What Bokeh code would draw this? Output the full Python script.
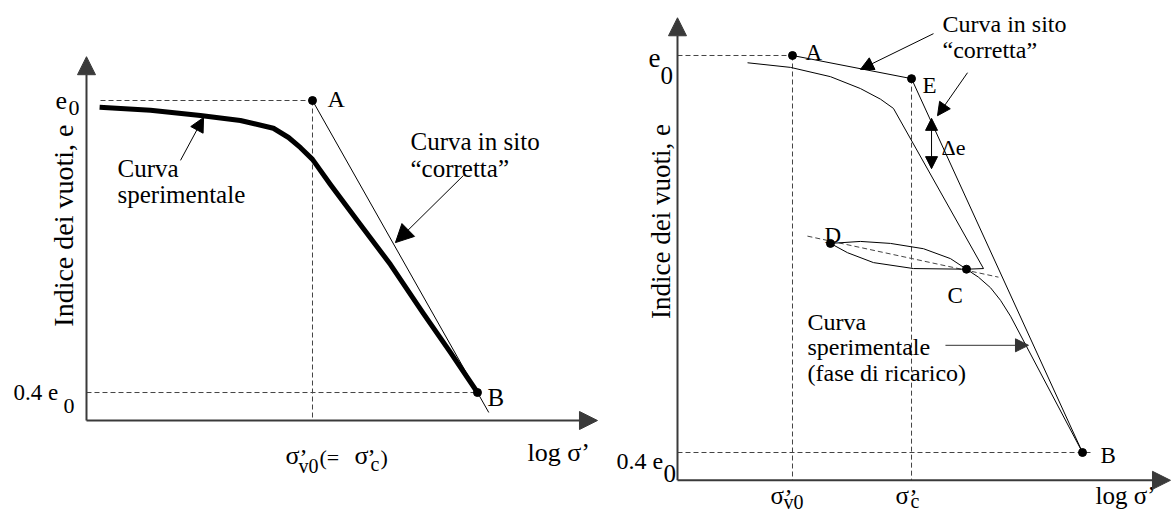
from bokeh.plotting import figure
from bokeh.layouts import row
from bokeh.models import Arrow, NormalHead, Range1d
from bokeh.core.properties import value
from bokeh.embed import file_html
from bokeh.resources import INLINE

SERIF = "Liberation Serif"

# ---------------------------------------------------------------
# Left panel: void ratio (e / e0) against log sigma' (sigma'v0 = 1)
# ---------------------------------------------------------------
left_exp_logs = [0.058, 0.283, 0.504, 0.681, 0.827, 0.894, 0.947, 1.000,
                 1.080, 1.199, 1.345, 1.491, 1.611, 1.730]
left_exp_e = [0.986, 0.980, 0.969, 0.959, 0.943, 0.924, 0.903, 0.879,
              0.827, 0.753, 0.663, 0.562, 0.482, 0.400]
# corrected field curve A -> B (continued a little past B)
left_field_logs = [1.000, 1.730, 1.780]
left_field_e = [1.000, 0.400, 0.359]
left_pt_names = ["A", "B"]
left_pt_logs = [1.000, 1.730]
left_pt_e = [1.000, 0.400]
left_origin = [0.0, 0.3425]
left_axis_end = [2.261, 1.090]

# ---------------------------------------------------------------
# Right panel: loading / unloading / reloading test curve
# ---------------------------------------------------------------
right_load_logs = [0.609, 0.983, 1.330, 1.591, 1.765, 1.878, 2.661]
right_load_e = [0.989, 0.982, 0.968, 0.950, 0.934, 0.920, 0.678]
right_unload_logs = [2.661, 2.513, 2.052, 1.704, 1.478, 1.330]
right_unload_e = [0.678, 0.677, 0.678, 0.687, 0.702, 0.716]
right_reload_logs = [1.330, 1.591, 1.852, 2.139, 2.374, 2.513, 2.617,
                     2.722, 2.809, 2.896, 3.522]
right_reload_e = [0.716, 0.719, 0.716, 0.708, 0.693, 0.677, 0.665,
                  0.649, 0.630, 0.606, 0.400]
right_field_logs = [1.000, 2.035, 3.522]
right_field_e = [1.000, 0.965, 0.400]
right_recomp_logs = [1.130, 2.791]
right_recomp_e = [0.727, 0.665]
right_pt_names = ["A", "E", "D", "C", "B"]
right_pt_logs = [1.000, 2.035, 1.330, 2.513, 3.522]
right_pt_e = [1.000, 0.965, 0.716, 0.677, 0.400]
right_delta_e = [0.829, 0.905]
right_origin = [0.0, 0.358]
right_axis_end = [4.287, 1.057]
right_0p4_end = 3.609


def make_fig(width, xr, yr):
    p = figure(width=width, height=515, x_range=Range1d(*xr), y_range=Range1d(*yr),
               x_axis_type=None, y_axis_type=None, output_backend="svg",
               toolbar_location=None, min_border=0, outline_line_color=None,
               background_fill_color="white", border_fill_color="white")
    p.xgrid.visible = False
    p.ygrid.visible = False
    return p


def label(p, x, y, s, size, align="left", angle=0.0):
    p.text(x=[x], y=[y], text=[s], text_font=value(SERIF),
           text_font_size=f"{size}px", text_align=align,
           text_baseline="alphabetic", angle=angle, text_color="black")


def arrow(p, x0, y0, x1, y1, size, both=False, color="black", lw=1.0):
    end = NormalHead(size=size, fill_color=color, line_color=color, line_width=1)
    start = NormalHead(size=size, fill_color=color, line_color=color, line_width=1) if both else None
    p.add_layout(Arrow(start=start, end=end, x_start=x0, y_start=y0, x_end=x1, y_end=y1,
                       line_color=color, line_width=lw))


def dashed(p, xs, ys):
    p.line(xs, ys, line_color="#444444", line_width=1, line_dash="5 3")


AXIS_COLOR = "#3a3a3a"

# ======================= left panel =======================
pl = make_fig(610, (-0.3805, 2.3186), (0.1473, 1.2055))

# guide lines
dashed(pl, [0.062, left_pt_logs[0]], [left_pt_e[0], left_pt_e[0]])
dashed(pl, [left_origin[0], left_pt_logs[1]], [left_pt_e[1], left_pt_e[1]])
dashed(pl, [left_pt_logs[0], left_pt_logs[0]], [left_pt_e[0], left_origin[1]])

# axes
arrow(pl, left_origin[0], left_origin[1], left_origin[0], left_axis_end[1], 18, color=AXIS_COLOR, lw=2)
arrow(pl, left_origin[0], left_origin[1], left_axis_end[0], left_origin[1], 18, color=AXIS_COLOR, lw=2)

# curves
pl.line(left_exp_logs, left_exp_e, line_color="black", line_width=5, line_join="round")
pl.line(left_field_logs, left_field_e, line_color="black", line_width=1)
pl.scatter(left_pt_logs, left_pt_e, size=8, color="black")

# callouts
arrow(pl, 0.416, 0.877, 0.518, 0.965, 14)
arrow(pl, 1.668, 0.846, 1.367, 0.708, 18)

# texts
label(pl, -0.102, 0.743, "Indice dei vuoti, e", 28, align="center", angle=1.5708)
label(pl, -0.137, 1.000, "e", 26)
label(pl, -0.0796, 0.9836, "0", 22)
label(pl, -0.323, 0.400, "0.4 e", 23)
label(pl, -0.1018, 0.3733, "0", 22)
label(pl, 1.0664, 1.0041, left_pt_names[0], 24)
label(pl, 1.7743, 0.3897, left_pt_names[1], 25)
label(pl, 0.1372, 0.8603, "Curva", 25)
label(pl, 0.1372, 0.8068, "sperimentale", 25)
label(pl, 1.4336, 0.9158, "Curva in sito", 25)
label(pl, 1.4336, 0.8603, "\u201ccorretta\u201d", 25)
label(pl, 0.8805, 0.2705, "\u03c3", 26)
label(pl, 0.9425, 0.2684, "\u2019", 24)
label(pl, 0.938, 0.250, "v0", 20)
label(pl, 1.031, 0.2664, "(=", 22)
label(pl, 1.186, 0.2705, "\u03c3", 26)
label(pl, 1.243, 0.2684, "\u2019", 24)
label(pl, 1.2566, 0.2541, "c", 20)
label(pl, 1.301, 0.2664, ")", 22)
label(pl, 1.9513, 0.2767, "log \u03c3\u2019", 26)

# ======================= right panel =======================
pr = make_fig(561, (-0.5826, 4.2957), (0.3048, 1.0831))

dashed(pr, [right_origin[0], right_pt_logs[0]], [right_pt_e[0], right_pt_e[0]])
dashed(pr, [right_origin[0], right_0p4_end], [right_pt_e[4], right_pt_e[4]])
dashed(pr, [right_pt_logs[0], right_pt_logs[0]], [right_pt_e[0], right_origin[1]])
dashed(pr, [right_pt_logs[1], right_pt_logs[1]], [right_pt_e[1], right_origin[1]])
dashed(pr, right_recomp_logs, right_recomp_e)

arrow(pr, right_origin[0], right_origin[1], right_origin[0], right_axis_end[1], 18, color=AXIS_COLOR, lw=2)
arrow(pr, right_origin[0], right_origin[1], right_axis_end[0], right_origin[1], 18, color=AXIS_COLOR, lw=2)

pr.line(right_load_logs, right_load_e, line_color="black", line_width=1)
pr.line(right_unload_logs, right_unload_e, line_color="black", line_width=1)
pr.line(right_reload_logs, right_reload_e, line_color="black", line_width=1)
pr.line(right_field_logs, right_field_e, line_color="black", line_width=1)
pr.scatter(right_pt_logs, right_pt_e, size=8, color="black")

# callouts
arrow(pr, 2.226, 1.033, 1.591, 0.979, 13)
arrow(pr, 2.522, 0.974, 2.261, 0.909, 13)
arrow(pr, 2.209, right_delta_e[0], 2.209, right_delta_e[1], 12, both=True)
arrow(pr, 2.330, 0.562, 3.052, 0.562, 13, color="#333333")

label(pr, -0.142, 0.749, "Indice dei vuoti, e", 27, align="center", angle=1.5708)
label(pr, -0.2522, 0.9955, "e", 27)
label(pr, -0.1478, 0.9698, "0", 25)
label(pr, -0.5304, 0.3879, "0.4 e", 24)
label(pr, -0.1217, 0.3683, "0", 25)
label(pr, 1.113, 1.0045, right_pt_names[0], 23)
label(pr, 2.1304, 0.9547, right_pt_names[1], 23)
label(pr, 1.2783, 0.728, right_pt_names[2], 23)
label(pr, 2.3478, 0.6373, right_pt_names[3], 23)
label(pr, 3.6783, 0.3955, right_pt_names[4], 23)
label(pr, 2.3043, 1.0469, "Curva in sito", 24)
label(pr, 2.3043, 1.0076, "\u201ccorretta\u201d", 24)
label(pr, 1.1304, 0.5965, "Curva", 24)
label(pr, 1.1304, 0.5587, "sperimentale", 24)
label(pr, 1.1304, 0.5209, "(fase di ricarico)", 24)
label(pr, 2.2957, 0.861, "\u0394e", 22)
label(pr, 0.8087, 0.3350, "\u03c3", 25)
label(pr, 0.9304, 0.3335, "\u2019", 24)
label(pr, 0.9217, 0.3245, "v0", 20)
label(pr, 1.8957, 0.3350, "\u03c3", 25)
label(pr, 2.0174, 0.3335, "\u2019", 24)
label(pr, 2.026, 0.3260, "c", 20)
label(pr, 3.6348, 0.3350, "log \u03c3\u2019", 25)

layout = row(pl, pr, spacing=0)
open("out.html", "w").write(file_html(layout, INLINE))
